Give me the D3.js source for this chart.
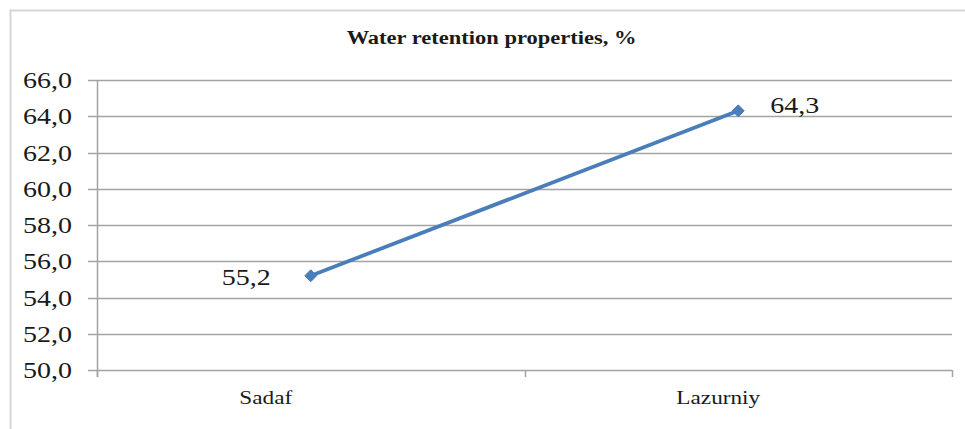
<!DOCTYPE html>
<html>
<head>
<meta charset="utf-8">
<script src="https://cdn.jsdelivr.net/npm/d3@7"></script>
</head>
<body style="margin:0;background:#fff">
<svg id="chart" width="965" height="429" style="display:block"></svg>
<script>
// Chart data
const categories = ["Sadaf", "Lazurniy"];
const values = [55.2, 64.3];
const yTicks = [50, 52, 54, 56, 58, 60, 62, 64, 66];
const title = "Water retention properties, %";

const svg = d3.select("#chart");
const W = 965, H = 429;
const margin = { left: 97, right: 13, top: 80, bottom: 59 };
const plotW = W - margin.left - margin.right;
const plotH = H - margin.top - margin.bottom;

const fmt = v => v.toFixed(1).replace(".", ",");
const gridColor = "#a3a3a3";
const lineColor = "#4a7ebb";
const textColor = "#1a1a1a";
const FONT = '"Liberation Serif"';
const SX = 1.25; // wide text, as set in the original document

// Text helper: positioned by transform so glyphs can be widened
function label(sel, x, y, size, anchor, weight) {
  return sel.append("text")
    .attr("transform", `translate(${x},${y}) scale(${SX},1)`)
    .attr("text-anchor", anchor)
    .attr("font-size", size)
    .attr("font-weight", weight || "normal")
    .attr("fill", textColor)
    .style("font-family", FONT);
}

// Outer frame (top and left edges)
svg.append("path")
  .attr("d", `M10.5,${H} L10.5,10.5 L${W},10.5`)
  .attr("fill", "none")
  .attr("stroke", "#d6d6d6")
  .attr("stroke-width", 2);

// Title
label(svg, 491.5, 44, 18, "middle", "bold").text(title);

const g = svg.append("g").attr("transform", `translate(${margin.left},${margin.top})`);

const y = d3.scaleLinear().domain([50, 66]).range([plotH, 0]);
const x = d3.scaleBand().domain(categories).range([0, plotW]);

// Horizontal gridlines with left tick stubs
g.append("g")
  .selectAll("line")
  .data(yTicks)
  .join("line")
  .attr("x1", -9)
  .attr("x2", plotW)
  .attr("y1", d => Math.round(y(d)) + 0.5)
  .attr("y2", d => Math.round(y(d)) + 0.5)
  .attr("stroke", gridColor)
  .attr("stroke-width", 1.5);

// Y axis line
g.append("line")
  .attr("x1", 0.5).attr("x2", 0.5)
  .attr("y1", 0).attr("y2", plotH + 7)
  .attr("stroke", gridColor)
  .attr("stroke-width", 1.5);

// Y tick labels
yTicks.forEach(t => {
  label(g, -25, y(t) + 8, 22.4, "end").text(fmt(t));
});

// X category boundary ticks
const bounds = [0, ...categories.map(c => x(c) + x.bandwidth())];
g.append("g")
  .selectAll("line")
  .data(bounds)
  .join("line")
  .attr("x1", d => Math.round(d) + 0.5)
  .attr("x2", d => Math.round(d) + 0.5)
  .attr("y1", plotH)
  .attr("y2", plotH + 7)
  .attr("stroke", gridColor)
  .attr("stroke-width", 1.5);

// X category labels (nudged left of the band centre)
const catNudge = [-45, -20];
categories.forEach((c, i) => {
  label(g, x(c) + x.bandwidth() / 2 + catNudge[i], plotH + 34, 18.6, "middle").text(c);
});

const pts = categories.map((c, i) => ({ c, v: values[i], i }));
const cx = d => x(d.c) + x.bandwidth() / 2;

// Series line
g.append("path")
  .datum(pts)
  .attr("d", d3.line().x(cx).y(d => y(d.v)))
  .attr("fill", "none")
  .attr("stroke", lineColor)
  .attr("stroke-width", 3.75);

// Diamond markers
g.append("g")
  .selectAll("path")
  .data(pts)
  .join("path")
  .attr("transform", d => `translate(${cx(d)},${y(d.v)})`)
  .attr("d", d3.symbol().type(d3.symbolDiamond2).size(90))
  .attr("fill", lineColor)
  .attr("stroke", lineColor)
  .attr("stroke-width", 1);

// Data labels: first point labelled on the left, last on the right
pts.forEach(d => {
  const left = d.i === 0;
  label(g, left ? cx(d) - 40 : cx(d) + 32, y(d.v) + (left ? 9 : 2.5), 22.4, left ? "end" : "start")
    .text(fmt(d.v));
});
</script>
</body>
</html>
